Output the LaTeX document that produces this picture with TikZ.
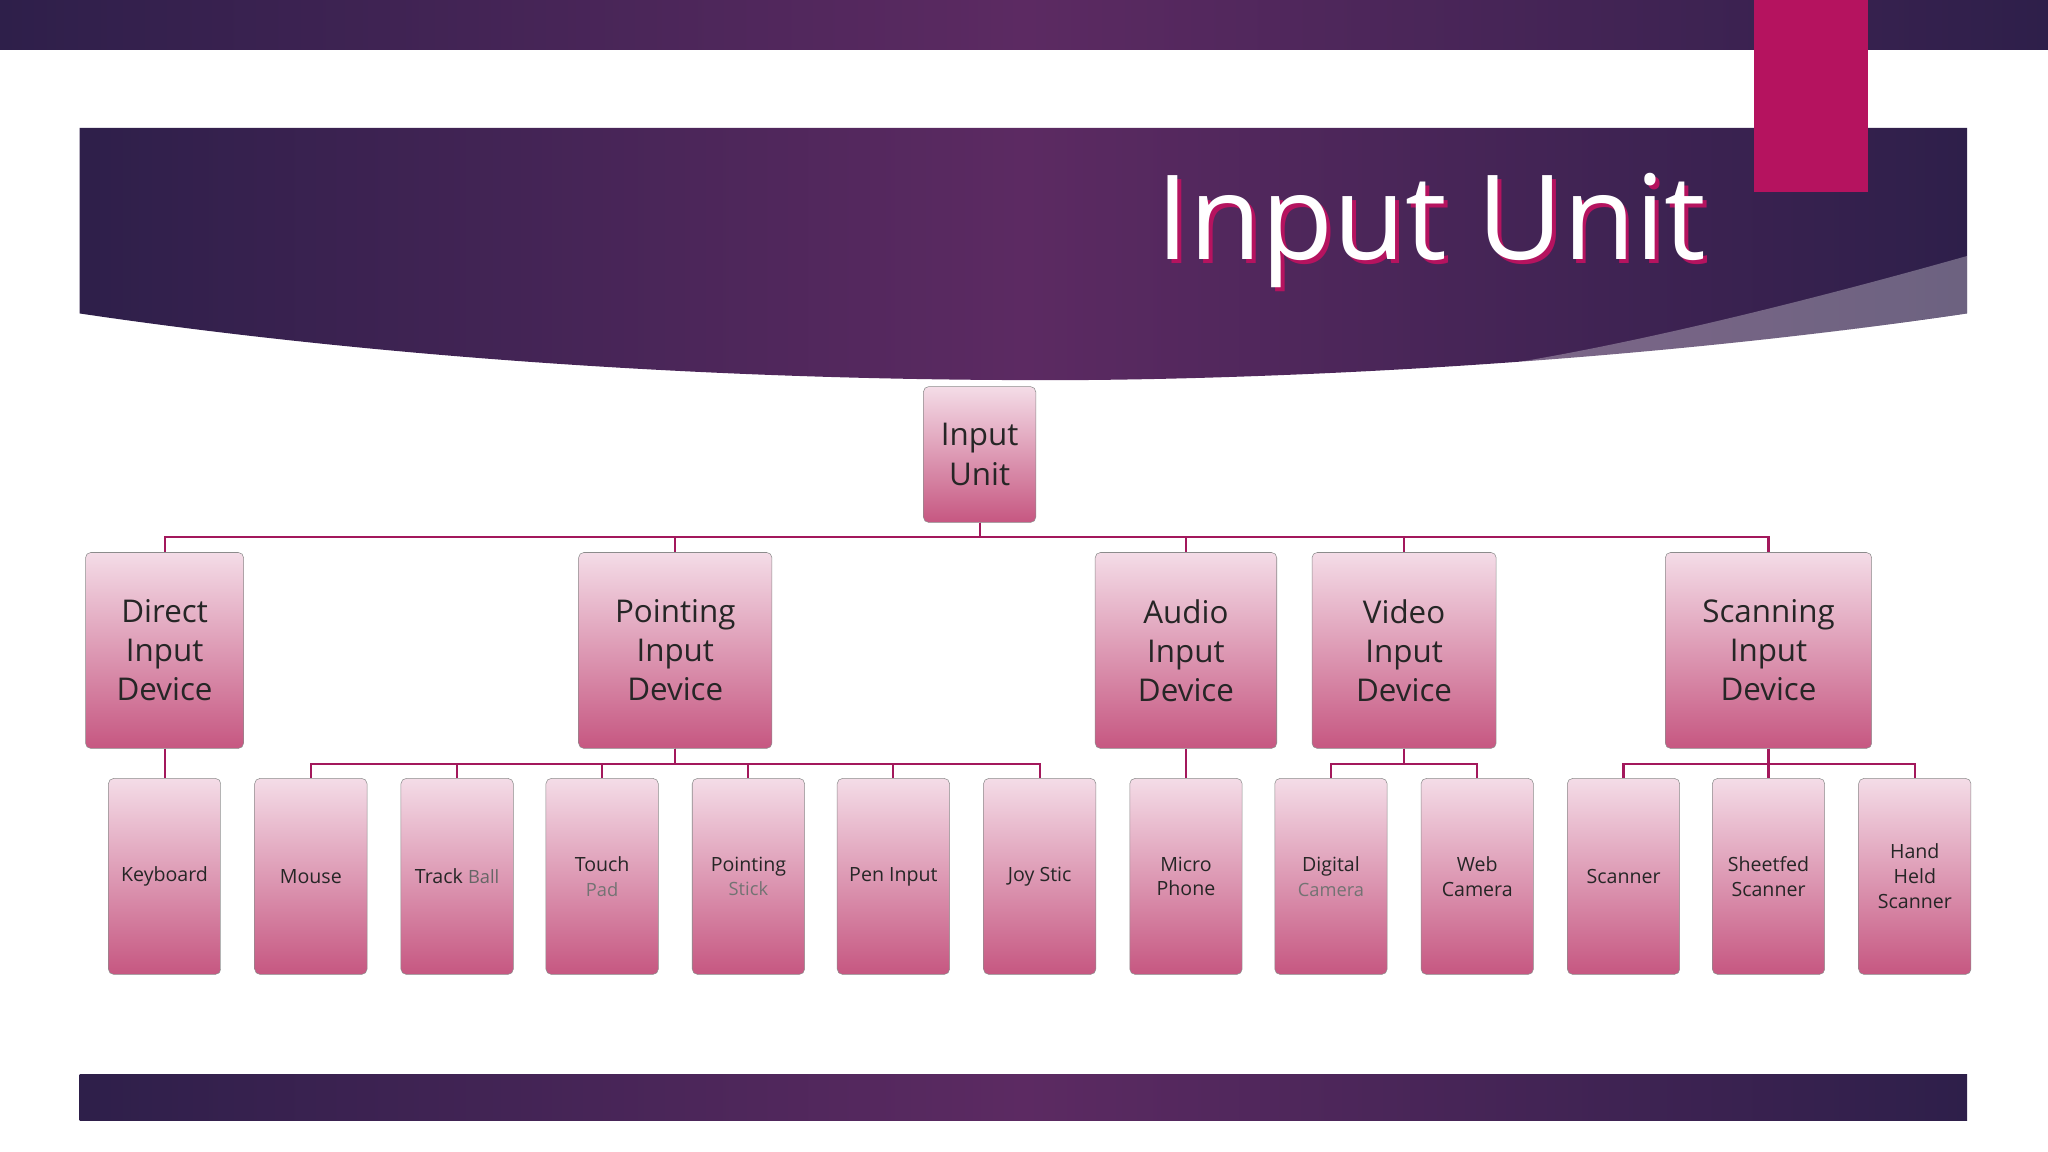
\documentclass[tikz,border=0pt]{standalone}
\usepackage{fontspec}
\setmainfont{Open Sans}
\begin{document}
\definecolor{dkp}{HTML}{2E1F4A}
\definecolor{midp}{HTML}{5C2A62}
\definecolor{mag}{HTML}{B5135F}
\definecolor{lnc}{HTML}{A3185C}
\definecolor{bxt}{HTML}{F4DCE7}
\definecolor{bxb}{HTML}{C65781}
\begin{tikzpicture}[x=1pt,y=-1pt,
 box/.style={draw=black!45,rounded corners=4pt,top color=bxt,bottom color=bxb,align=center,text=black!85,inner sep=0pt},
 big/.style={box,font=\fontsize{24}{30}\selectfont},
 leaf/.style={box,minimum width=86pt,minimum height=150pt,font=\fontsize{15}{19}\selectfont},
 ln/.style={draw=lnc,line width=1.6pt}]
\useasboundingbox (0,0) rectangle (1568,882);
\fill[white] (0,0) rectangle (1568,882);
\shade[left color=dkp,right color=dkp,middle color=midp] (0,0) rectangle (1568,38);
\shade[left color=dkp,right color=dkp,middle color=midp] (61,823) rectangle (1506,858);
\shade[left color=dkp,right color=dkp,middle color=midp] (61,98) -- (1506,98) -- (1506,240) .. controls (1200,285) and (900,292) .. (780,291) .. controls (500,290) and (250,268) .. (61,240) -- cycle;
\fill[white,opacity=0.3] (1506,196) .. controls (1350,240) and (1200,275) .. (1100,286) .. controls (1250,275) and (1400,255) .. (1506,240) -- cycle;
\fill[mag] (1343,0) rectangle (1430,147);
\node[anchor=east,text=white,font=\fontsize{90}{90}\selectfont,
  postaction={}] (title) at (1310,178) {\rlap{\kern3pt\raisebox{-3pt}{\color{mag}Input Unit}}Input Unit};
% nodes
\node[big,minimum width=86pt,minimum height=104pt] (root) at (750,348) {Input\\Unit};
\node[big,minimum width=121pt,minimum height=150pt] (d) at (126,498) {Direct\\Input\\Device};
\node[big,minimum width=148pt,minimum height=150pt] (p) at (517,498) {Pointing\\Input\\Device};
\node[big,minimum width=139pt,minimum height=150pt] (a) at (908,498) {Audio\\Input\\Device};
\node[big,minimum width=141pt,minimum height=150pt] (v) at (1075,498) {Video\\Input\\Device};
\node[big,minimum width=158pt,minimum height=150pt] (s) at (1354,498) {Scanning\\Input\\Device};
\node[leaf] (l1) at (126,671) {Keyboard};
\node[leaf] (l2) at (238,671) {Mouse};
\node[leaf] (l3) at (350,671) {Track {\color{black!60}\fontsize{14}{19}\selectfont Ball}};
\node[leaf] (l4) at (461,671) {Touch\\{\color{black!55}\fontsize{14}{19}\selectfont Pad}};
\node[leaf] (l5) at (573,671) {Pointing\\{\color{black!55}\fontsize{14}{19}\selectfont Stick}};
\node[leaf] (l6) at (684,671) {Pen Input};
\node[leaf] (l7) at (796,671) {Joy Stic};
\node[leaf] (l8) at (908,671) {Micro\\Phone};
\node[leaf] (l9) at (1019,671) {Digital\\{\color{black!55}\fontsize{14}{19}\selectfont Camera}};
\node[leaf] (l10) at (1131,671) {Web\\Camera};
\node[leaf] (l11) at (1243,671) {Scanner};
\node[leaf] (l12) at (1354,671) {Sheetfed\\Scanner};
\node[leaf] (l13) at (1466,671) {Hand\\Held\\Scanner};
% connectors
\foreach \n in {d,p,a,v,s} \draw[ln] (root.south) |- ++(0,11) -| (\n.north);
\draw[ln] (d.south) -- (l1.north);
\foreach \n in {l2,l3,l4,l5,l6,l7} \draw[ln] (p.south) |- ++(0,12) -| (\n.north);
\draw[ln] (a.south) -- (l8.north);
\foreach \n in {l9,l10} \draw[ln] (v.south) |- ++(0,12) -| (\n.north);
\foreach \n in {l11,l12,l13} \draw[ln] (s.south) |- ++(0,12) -| (\n.north);
\end{tikzpicture}
\end{document}
